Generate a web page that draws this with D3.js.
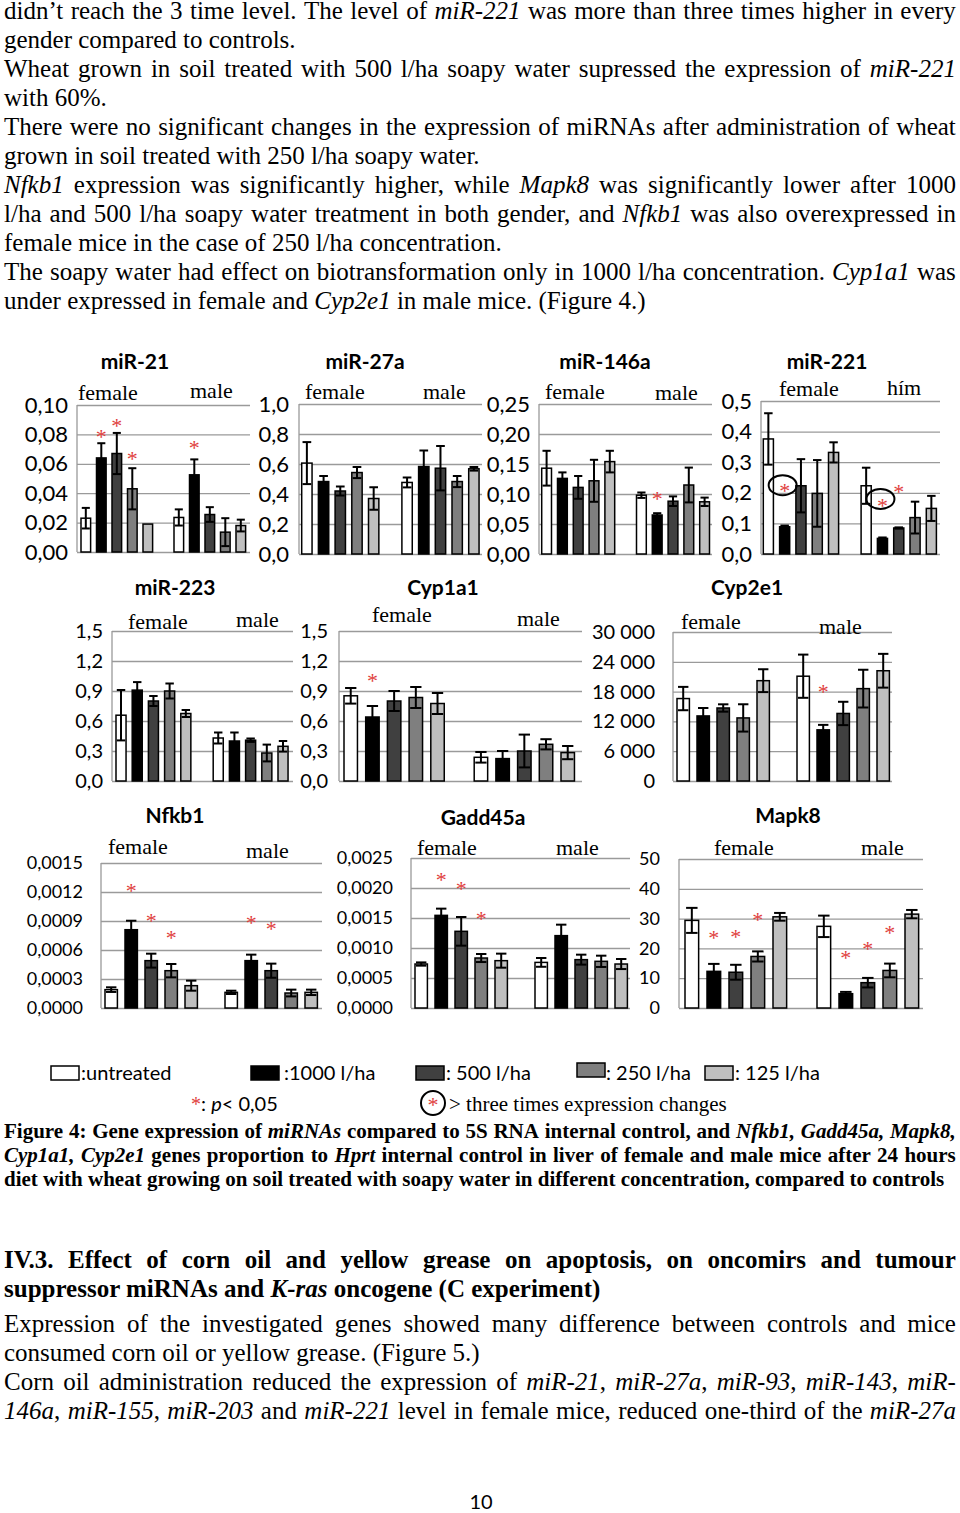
<!DOCTYPE html>
<html>
<head>
<meta charset="utf-8">
<script src="https://cdnjs.cloudflare.com/ajax/libs/d3/7.8.5/d3.min.js"></script>
<style>
body { margin: 0; background: #fff; }
#page { position: relative; width: 960px; height: 1513px; overflow: hidden; background: #fff; }
#page svg { position: absolute; left: 0; top: 0; }
.line { position: absolute; left: 4px; width: 952px; white-space: pre; font-family: "Liberation Serif", "Times New Roman", serif; color: #000; }
.just { display: flex; justify-content: space-between; white-space: nowrap; }
</style>
</head>
<body>
<div id="page"></div>
<script>
// treatments and groups
const treatments = ["untreated", "1000 l/ha", "500 l/ha", "250 l/ha", "125 l/ha"];
const legendLabels = [":untreated", ":1000 l/ha", ": 500 l/ha", ": 250 l/ha", ": 125 l/ha"];
const groups = ["female", "male"];

// means (female x5, male x5) and error (+/-)
const mir21Mean = [0.023, 0.064, 0.067, 0.043, 0.019, 0.0235, 0.0525, 0.0255, 0.0135, 0.018];
const mir21Err = [0.007, 0.010, 0.014, 0.014, 0, 0.0055, 0.0105, 0.005, 0.0095, 0.004];
const mir21Ticks = [0, 0.02, 0.04, 0.06, 0.08, 0.10];
const mir21TickLabels = ["0,00", "0,02", "0,04", "0,06", "0,08", "0,10"];
const mir21Stars = [[1, 0.080], [2, 0.0876], [3, 0.065], [6, 0.073]];

const mir27aMean = [0.606, 0.483, 0.42, 0.543, 0.37, 0.477, 0.583, 0.572, 0.483, 0.568];
const mir27aErr = [0.14, 0.037, 0.03, 0.037, 0.075, 0.033, 0.107, 0.148, 0.037, 0.012];
const mir27aTicks = [0, 0.2, 0.4, 0.6, 0.8, 1.0];
const mir27aTickLabels = ["0,0", "0,2", "0,4", "0,6", "0,8", "1,0"];

const mir146aMean = [0.143, 0.126, 0.111, 0.122, 0.154, 0.098, 0.065, 0.088, 0.115, 0.087];
const mir146aErr = [0.029, 0.010, 0.019, 0.035, 0.018, 0.0045, 0.003, 0.008, 0.029, 0.007];
const mir146aTicks = [0, 0.05, 0.10, 0.15, 0.20, 0.25];
const mir146aTickLabels = ["0,00", "0,05", "0,10", "0,15", "0,20", "0,25"];
const mir146aStars = [[6, 0.096]];

const mir221Mean = [0.376, 0.089, 0.223, 0.198, 0.332, 0.223, 0.051, 0.085, 0.119, 0.149];
const mir221Err = [0.084, 0.004, 0.087, 0.109, 0.033, 0.059, 0.003, 0.002, 0.052, 0.041];
const mir221Ticks = [0, 0.1, 0.2, 0.3, 0.4, 0.5];
const mir221TickLabels = ["0,0", "0,1", "0,2", "0,3", "0,4", "0,5"];
const mir221Stars = [[1, 0.215], [6, 0.168], [7, 0.212]];
const mir221Rings = [[1, 0.225], [6, 0.18]];

const mir223Mean = [0.658, 0.909, 0.80, 0.90, 0.675, 0.43, 0.40, 0.408, 0.28, 0.347];
const mir223Err = [0.252, 0.08, 0.05, 0.075, 0.035, 0.055, 0.085, 0.017, 0.084, 0.053];
const mir223Ticks = [0, 0.3, 0.6, 0.9, 1.2, 1.5];
const mir223TickLabels = ["0,0", "0,3", "0,6", "0,9", "1,2", "1,5"];

const cyp1a1Mean = [0.852, 0.64, 0.80, 0.835, 0.775, 0.237, 0.224, 0.30, 0.367, 0.284];
const cyp1a1Err = [0.078, 0.11, 0.10, 0.105, 0.105, 0.053, 0.076, 0.164, 0.051, 0.066];
const cyp1a1Stars = [[1, 1.026]];

const cyp2e1Mean = [16600, 13100, 14700, 12700, 20200, 21100, 10300, 13600, 18600, 22200];
const cyp2e1Err = [2350, 1600, 740, 2750, 2300, 4350, 1000, 2350, 3800, 3400];
const cyp2e1Ticks = [0, 6000, 12000, 18000, 24000, 30000];
const cyp2e1TickLabels = ["0", "6 000", "12 000", "18 000", "24 000", "30 000"];
const cyp2e1Stars = [[6, 18600]];

const nfkb1Mean = [0.00019, 0.00081, 0.00049, 0.000386, 0.000231, 0.000162, 0.00049, 0.000386, 0.000155, 0.000162];
const nfkb1Err = [0.000024, 0.000093, 0.000072, 0.000069, 0.000052, 0.000017, 0.000062, 0.000073, 0.000035, 0.000028];
const nfkb1Ticks = [0, 0.0003, 0.0006, 0.0009, 0.0012, 0.0015];
const nfkb1TickLabels = ["0,0000", "0,0003", "0,0006", "0,0009", "0,0012", "0,0015"];
const nfkb1Stars = [[1, 0.00124], [2, 0.00093], [3, 0.00076], [6, 0.00091], [7, 0.00085]];

const gadd45aMean = [0.000733, 0.001544, 0.001278, 0.000833, 0.000789, 0.00076, 0.001206, 0.000806, 0.000778, 0.000733];
const gadd45aErr = [0.000027, 0.000112, 0.000239, 0.000067, 0.000117, 0.000073, 0.000183, 0.000083, 0.000094, 0.000084];
const gadd45aTicks = [0, 0.0005, 0.0010, 0.0015, 0.0020, 0.0025];
const gadd45aTickLabels = ["0,0000", "0,0005", "0,0010", "0,0015", "0,0020", "0,0025"];
const gadd45aStars = [[1, 0.00219], [2, 0.00204], [3, 0.00153]];

const mapk8Mean = [29.4, 12.3, 12.0, 17.3, 30.6, 27.4, 4.8, 8.5, 12.6, 31.5];
const mapk8Err = [4.2, 2.5, 2.5, 1.7, 1.3, 3.6, 0.6, 1.6, 2.3, 1.4];
const mapk8Ticks = [0, 10, 20, 30, 40, 50];
const mapk8TickLabels = ["0", "10", "20", "30", "40", "50"];
const mapk8Stars = [[1, 24.6], [2, 24.9], [3, 30.4], [6, 17.9], [7, 20.9], [8, 26.3]];

// page text
const introLines = [
  ["didn’t reach the 3 time level. The level of _miR-221_ was more than three times higher in every", true],
  ["gender compared to controls.", false],
  ["Wheat grown in soil treated with 500 l/ha soapy water supressed the expression of _miR-221_", true],
  ["with 60%.", false],
  ["There were no significant changes in the expression of miRNAs after administration of wheat", true],
  ["grown in soil treated with 250 l/ha soapy water.", false],
  ["_Nfkb1_ expression was significantly higher, while _Mapk8_ was significantly lower after 1000", true],
  ["l/ha and 500 l/ha soapy water treatment in both gender, and _Nfkb1_ was also overexpressed in", true],
  ["female mice in the case of 250 l/ha concentration.", false],
  ["The soapy water had effect on biotransformation only in 1000 l/ha concentration. _Cyp1a1_ was", true],
  ["under expressed in female and _Cyp2e1_ in male mice. (Figure 4.)", false]
];
const captionLines = [
  ["Figure 4: Gene expression of _miRNAs_ compared to 5S RNA internal control, and _Nfkb1,_ _Gadd45a,_ _Mapk8,_", true],
  ["_Cyp1a1,_ _Cyp2e1_ genes proportion to _Hprt_ internal control in liver of female and male mice after 24 hours", true],
  ["diet with wheat growing on soil treated with soapy water in different concentration, compared to controls", false]
];
const headingLines = [
  ["IV.3. Effect of corn oil and yellow grease on apoptosis, on oncomirs and tumour", true],
  ["suppressor miRNAs and _K-ras_ oncogene (C experiment)", false]
];
const bodyLines = [
  ["Expression of the investigated genes showed many difference between controls and mice", true],
  ["consumed corn oil or yellow grease. (Figure 5.)", false],
  ["Corn oil administration reduced the expression of _miR-21_, _miR-27a_, _miR-93_, _miR-143_, _miR-_", true],
  ["_146a_, _miR-155_, _miR-203_ and _miR-221_ level in female mice, reduced one-third of the _miR-27a_", true]
];

const colors = ["#ffffff", "#000000", "#404040", "#7f7f7f", "#bfbfbf"];
const starColor = "#e0403c";
const sans = "Lato, 'Open Sans', sans-serif";
const serif = "'Liberation Serif', 'Times New Roman', serif";

const page = d3.select("#page");

// ---- text blocks
const italic = s => s.replace(/_([^_]+)_/g, "<i>$1</i>");

function textBlock(lines, base, pitch, size, bold) {
  const asc = (pitch - 1.107 * size) / 2 + 0.891 * size;
  lines.forEach((l, k) => {
    const div = page.append("div")
      .attr("class", l[1] ? "line just" : "line")
      .style("top", (base + k * pitch - asc) + "px")
      .style("font-size", size + "px")
      .style("line-height", pitch + "px")
      .style("font-weight", bold ? "bold" : "normal");
    if (l[1]) {
      div.selectAll("span").data(l[0].split(" ")).join("span").html(d => italic(d));
    } else {
      div.html(italic(l[0]));
    }
  });
}

textBlock(introLines, 19, 29, 25, false);
textBlock(captionLines, 1138, 24, 21, true);
textBlock(headingLines, 1268, 29, 25, true);
textBlock(bodyLines, 1332, 29, 25, false);

// ---- charts
const svg = page.append("svg").attr("width", 960).attr("height", 1513);

const panels = [
  { title: "miR-21", mean: mir21Mean, err: mir21Err, ticks: mir21Ticks, tickLabels: mir21TickLabels, stars: mir21Stars,
    left: 77, right: 250, top: 405, base: 552, firstBar: 81, step: 15.5, labelRight: 68, fs: 22,
    titleX: 135, titleY: 369, gx: [78, 190], gy: [400, 398] },
  { title: "miR-27a", mean: mir27aMean, err: mir27aErr, ticks: mir27aTicks, tickLabels: mir27aTickLabels, stars: [],
    left: 299, right: 482, top: 404, base: 554, firstBar: 301.7, step: 16.7, labelRight: 289, fs: 22,
    titleX: 365, titleY: 369, gx: [305, 423], gy: [399, 399] },
  { title: "miR-146a", mean: mir146aMean, err: mir146aErr, ticks: mir146aTicks, tickLabels: mir146aTickLabels, stars: mir146aStars,
    left: 539, right: 712, top: 404, base: 554, firstBar: 541.7, step: 15.8, labelRight: 530, fs: 22,
    titleX: 605, titleY: 369, gx: [545, 655], gy: [399, 400] },
  { title: "miR-221", mean: mir221Mean, err: mir221Err, ticks: mir221Ticks, tickLabels: mir221TickLabels, stars: mir221Stars,
    rings: mir221Rings, groupNames: ["female", "hím"],
    left: 761, right: 940, top: 401, base: 554, firstBar: 763.3, step: 16.3, labelRight: 752, fs: 22,
    titleX: 827, titleY: 369, gx: [779, 887], gy: [396, 395] },
  { title: "miR-223", mean: mir223Mean, err: mir223Err, ticks: mir223Ticks, tickLabels: mir223TickLabels, stars: [],
    left: 112, right: 293, top: 631, base: 781, firstBar: 116, step: 16.2, labelRight: 103, fs: 20,
    titleX: 175, titleY: 595, gx: [128, 236], gy: [629, 627] },
  { title: "Cyp1a1", mean: cyp1a1Mean, err: cyp1a1Err, ticks: mir223Ticks, tickLabels: mir223TickLabels, stars: cyp1a1Stars,
    left: 339, right: 582, top: 631, base: 781, firstBar: 344, step: 21.7, labelRight: 328, fs: 20,
    titleX: 443, titleY: 595, gx: [372, 517], gy: [622, 626] },
  { title: "Cyp2e1", mean: cyp2e1Mean, err: cyp2e1Err, ticks: cyp2e1Ticks, tickLabels: cyp2e1TickLabels, stars: cyp2e1Stars,
    left: 673, right: 892, top: 632, base: 781, firstBar: 677, step: 20, labelRight: 655, fs: 20,
    titleX: 747, titleY: 595, gx: [681, 819], gy: [629, 634] },
  { title: "Nfkb1", mean: nfkb1Mean, err: nfkb1Err, ticks: nfkb1Ticks, tickLabels: nfkb1TickLabels, stars: nfkb1Stars,
    left: 101, right: 322, top: 863, base: 1008, firstBar: 105, step: 20, labelRight: 83, fs: 18,
    titleX: 175, titleY: 823, gx: [108, 246], gy: [854, 858] },
  { title: "Gadd45a", mean: gadd45aMean, err: gadd45aErr, ticks: gadd45aTicks, tickLabels: gadd45aTickLabels, stars: gadd45aStars,
    left: 411, right: 630, top: 858, base: 1008, firstBar: 415, step: 20, labelRight: 393, fs: 18,
    titleX: 483, titleY: 825, gx: [417, 556], gy: [855, 855] },
  { title: "Mapk8", mean: mapk8Mean, err: mapk8Err, ticks: mapk8Ticks, tickLabels: mapk8TickLabels, stars: mapk8Stars,
    left: 679, right: 923, top: 859, base: 1008, firstBar: 685, step: 22, labelRight: 660, fs: 18,
    titleX: 788, titleY: 823, gx: [714, 861], gy: [855, 855] }
];

const slot = i => (i < 5 ? i : i + 1);

panels.forEach(p => {
  const g = svg.append("g");
  const y = d3.scaleLinear().domain([0, p.ticks[p.ticks.length - 1]]).range([p.base, p.top]);
  const x0 = p.firstBar - 0.19 * p.step;
  const x = d3.scaleBand().domain(d3.range(11)).range([x0, x0 + 11 * p.step])
    .paddingInner(0.38).paddingOuter(0.19);
  const bw = x.bandwidth();
  const cx = i => x(slot(i)) + bw / 2;

  // gridlines
  g.append("g")
    .attr("transform", `translate(${p.left},0)`)
    .call(d3.axisLeft(y).tickValues(p.ticks).tickSize(-(p.right - p.left)).tickFormat(""))
    .call(a => a.select(".domain").remove())
    .selectAll("line").attr("stroke", "#9a9a9a").attr("stroke-width", 1.3);
  g.append("line")
    .attr("x1", p.left).attr("x2", p.left)
    .attr("y1", y.range()[0]).attr("y2", y.range()[1])
    .attr("stroke", "#9a9a9a").attr("stroke-width", 1.3);

  // tick labels
  g.append("g")
    .attr("transform", `translate(${p.labelRight},0)`)
    .call(d3.axisLeft(y).tickValues(p.ticks).tickSize(0).tickPadding(0).tickFormat((d, i) => p.tickLabels[i]))
    .call(a => a.select(".domain").remove())
    .selectAll("text")
    .attr("fill", "#000")
    .style("font-family", sans)
    .style("font-size", p.fs + "px");

  // title and group labels
  g.append("text")
    .attr("x", p.titleX).attr("y", p.titleY)
    .attr("text-anchor", "middle")
    .style("font-family", sans).style("font-weight", "bold").style("font-size", "21px")
    .text(p.title);
  g.selectAll(".grp")
    .data(p.groupNames || groups)
    .join("text")
    .attr("x", (d, i) => p.gx[i]).attr("y", (d, i) => p.gy[i])
    .style("font-family", serif).style("font-size", "22px")
    .text(d => d);

  // bars
  g.selectAll(".bar")
    .data(p.mean)
    .join("rect")
    .attr("x", (d, i) => x(slot(i)))
    .attr("y", d => y(d))
    .attr("width", bw)
    .attr("height", d => y(0) - y(d))
    .attr("fill", (d, i) => colors[i % 5])
    .attr("stroke", "#000")
    .attr("stroke-width", 1.5);

  // error bars
  const cap = bw * 0.42;
  const eb = g.selectAll(".err")
    .data(p.mean.map((m, i) => ({ i, m, e: p.err[i] })).filter(d => d.e > 0))
    .join("g")
    .attr("stroke", "#000").attr("stroke-width", 2);
  eb.append("line")
    .attr("x1", d => cx(d.i)).attr("x2", d => cx(d.i))
    .attr("y1", d => y(d.m - d.e)).attr("y2", d => y(d.m + d.e));
  eb.append("line")
    .attr("x1", d => cx(d.i) - cap).attr("x2", d => cx(d.i) + cap)
    .attr("y1", d => y(d.m + d.e)).attr("y2", d => y(d.m + d.e));
  eb.append("line")
    .attr("x1", d => cx(d.i) - cap).attr("x2", d => cx(d.i) + cap)
    .attr("y1", d => y(d.m - d.e)).attr("y2", d => y(d.m - d.e));

  // significance stars
  g.selectAll(".star")
    .data(p.stars)
    .join("text")
    .attr("x", d => cx(d[0]))
    .attr("y", d => y(d[1]) + 10)
    .attr("text-anchor", "middle")
    .attr("fill", starColor)
    .style("font-family", serif).style("font-size", "22px")
    .text("*");

  // three-fold change rings
  g.selectAll(".ring")
    .data(p.rings || [])
    .join("ellipse")
    .attr("cx", d => cx(d[0]) - 2)
    .attr("cy", d => y(d[1]))
    .attr("rx", 14).attr("ry", 10)
    .attr("fill", "none")
    .attr("stroke", "#000")
    .attr("stroke-width", 2);
});

// ---- legend
const legendBoxX = [51, 251, 416, 577, 705];
const legendBoxY = [1066, 1066, 1066, 1063, 1066];
const legendTextX = [81, 284, 446, 606, 735];
const legend = svg.append("g");
legend.selectAll("rect")
  .data(treatments)
  .join("rect")
  .attr("x", (d, i) => legendBoxX[i]).attr("y", (d, i) => legendBoxY[i])
  .attr("width", 28).attr("height", 14)
  .attr("fill", (d, i) => colors[i])
  .attr("stroke", "#000").attr("stroke-width", 1.5);
legend.selectAll(".lt")
  .data(legendLabels)
  .join("text")
  .attr("x", (d, i) => legendTextX[i]).attr("y", 1080)
  .style("font-family", sans).style("font-size", "20px")
  .text(d => d);

const pText = legend.append("text").attr("x", 191).attr("y", 1111)
  .style("font-family", sans).style("font-size", "20px");
pText.append("tspan").attr("fill", starColor).style("font-family", serif).text("*");
pText.append("tspan").text(": ");
pText.append("tspan").style("font-style", "italic").text("p");
pText.append("tspan").text("< 0,05");

legend.append("circle")
  .attr("cx", 433).attr("cy", 1103).attr("r", 12)
  .attr("fill", "none").attr("stroke", "#000").attr("stroke-width", 2);
legend.append("text")
  .attr("x", 433).attr("y", 1112)
  .attr("text-anchor", "middle")
  .attr("fill", starColor)
  .style("font-family", serif).style("font-size", "22px")
  .text("*");
legend.append("text")
  .attr("x", 449).attr("y", 1111)
  .style("font-family", serif).style("font-size", "21px")
  .text("> three times expression changes");

// page number
svg.append("text")
  .attr("x", 481).attr("y", 1509)
  .attr("text-anchor", "middle")
  .style("font-family", sans).style("font-size", "20px")
  .text("10");
</script>
</body>
</html>
